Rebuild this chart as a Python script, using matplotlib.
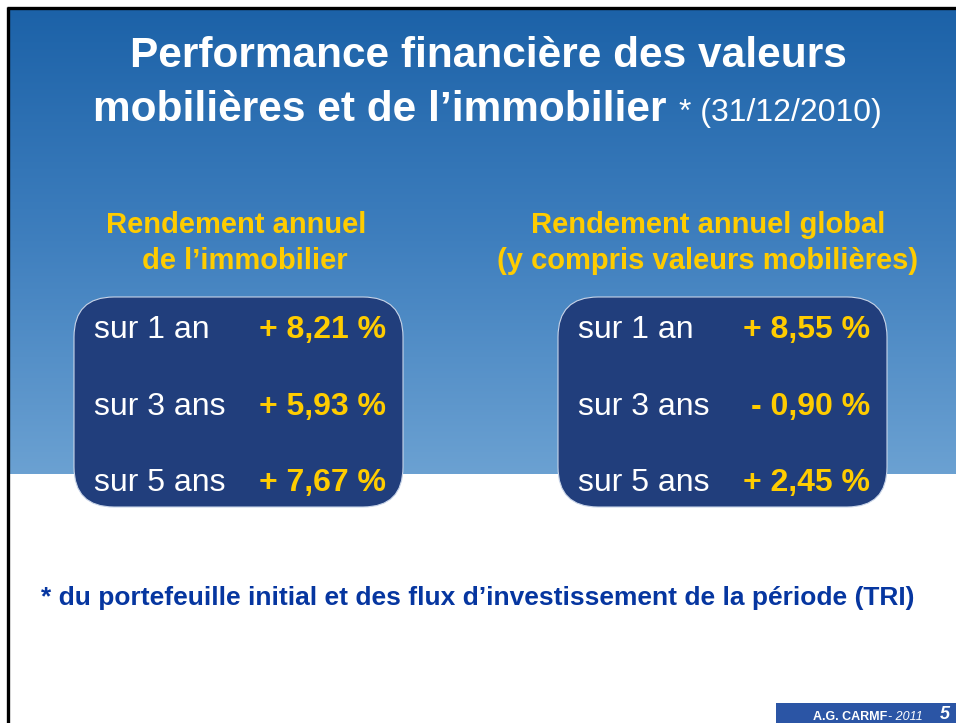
import numpy as np
import matplotlib.pyplot as plt
from matplotlib.colors import LinearSegmentedColormap
from matplotlib.patches import FancyBboxPatch, Rectangle

plt.rcParams['font.family'] = ['Liberation Sans', 'DejaVu Sans']

# donnees
periodes = ['sur 1 an', 'sur 3 ans', 'sur 5 ans']
rdt_immobilier = ['+ 8,21 %', '+ 5,93 %', '+ 7,67 %']
rdt_global = ['+ 8,55 %', '- 0,90 %', '+ 2,45 %']

titre_l1 = 'Performance financière des valeurs'
titre_l2 = 'mobilières et de l\u2019immobilier'
titre_date = '* (31/12/2010)'
sous_titre_g = ['Rendement annuel', 'de l\u2019immobilier']
sous_titre_d = ['Rendement annuel global', '(y compris valeurs mobilières)']
note = '* du portefeuille initial et des flux d\u2019investissement de la période (TRI)'

GOLD = '#FFCC00'
BOX = '#213E7C'
NAVY = '#0636A0'

fig = plt.figure(figsize=(9.56, 7.23), dpi=100)
ax = fig.add_axes([0, 0, 1, 1])
ax.set_xlim(0, 956)
ax.set_ylim(723, 0)
ax.axis('off')

# fond degrade bleu
cmap = LinearSegmentedColormap.from_list('fond', ['#1C62A8', '#3F7FBE', '#6BA1D2'])
grad = np.linspace(0, 1, 256).reshape(-1, 1)
ax.imshow(grad, extent=(10, 956, 474, 9), aspect='auto', cmap=cmap, zorder=0)

# cadre noir
ax.plot([8.5, 8.5], [7, 723], color='black', lw=2.4, solid_capstyle='butt')
ax.plot([7, 956], [7.5, 7.5], color='black', lw=2.4, solid_capstyle='butt')

# titre
ax.text(488, 67, titre_l1, color='white', fontsize=30.5, fontweight='bold',
        ha='center', va='baseline')
ax.text(93, 121, titre_l2, color='white', fontsize=30.5, fontweight='bold',
        ha='left', va='baseline')
ax.text(882, 121, titre_date, color='white', fontsize=23,
        ha='right', va='baseline')

# sous-titres
for (xc1, xc2), lignes in [((236, 245), sous_titre_g), ((708, 708), sous_titre_d)]:
    ax.text(xc1, 225, lignes[0], color=GOLD, fontsize=21, fontweight='bold',
            ha='center', va='center')
    ax.text(xc2, 261, lignes[1], color=GOLD, fontsize=21, fontweight='bold',
            ha='center', va='center')

# encadres
rows_y = [330, 407, 483]
for x0, valeurs in [(74, rdt_immobilier), (558, rdt_global)]:
    box = FancyBboxPatch((x0, 297), 329, 210,
                         boxstyle='round,pad=0,rounding_size=40',
                         fc=BOX, ec='#C8D4E8', lw=0.8, zorder=2)
    ax.add_patch(box)
    for y, lab, val in zip(rows_y, periodes, valeurs):
        ax.text(x0 + 20, y, lab, color='white', fontsize=23,
                ha='left', va='center', zorder=3)
        ax.text(x0 + 312, y, val, color=GOLD, fontsize=23, fontweight='bold',
                ha='right', va='center', zorder=3)

# note
ax.text(478, 598, note, color=NAVY, fontsize=19, fontweight='bold',
        ha='center', va='center')

# pied de page
ax.add_patch(Rectangle((776, 703), 180, 20, fc='#2B55A5', ec='none'))
ax.text(813, 720, 'A.G. CARMF', color='white', fontsize=9, fontweight='bold',
        ha='left', va='baseline')
ax.text(888, 720, '- 2011', color='white', fontsize=9, style='italic',
        ha='left', va='baseline')
ax.text(940, 719, '5', color='white', fontsize=13, fontweight='bold',
        style='italic', ha='left', va='baseline')

fig.savefig('out.png', dpi=100)
